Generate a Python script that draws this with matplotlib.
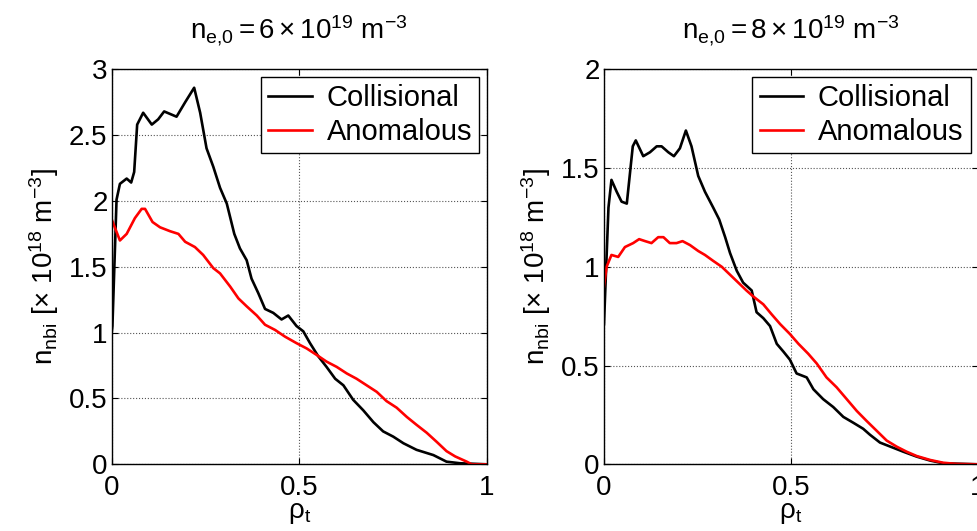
import matplotlib
matplotlib.use("Agg")
import matplotlib.pyplot as plt
from matplotlib.ticker import FormatStrFormatter, MultipleLocator

plt.rcParams['font.family'] = ['Liberation Sans', 'DejaVu Sans']
plt.rcParams['mathtext.fontset'] = 'custom'
plt.rcParams['mathtext.rm'] = 'Liberation Sans'
plt.rcParams['mathtext.it'] = 'Liberation Sans'

# n_e,0 = 6e19 panel
x_col6 = [0.0, 0.002, 0.013, 0.022, 0.04, 0.052, 0.06, 0.068, 0.084, 0.107, 0.124, 0.14, 0.173,
          0.196, 0.22, 0.236, 0.253, 0.271, 0.289, 0.307, 0.327, 0.342, 0.36, 0.373, 0.391,
          0.409, 0.431, 0.453, 0.471, 0.493, 0.511, 0.529, 0.551, 0.573, 0.596, 0.618, 0.644,
          0.671, 0.698, 0.724, 0.751, 0.778, 0.813, 0.858, 0.893, 0.929, 1.0]
y_col6 = [1.0, 1.05, 2.01, 2.13, 2.17, 2.14, 2.22, 2.58, 2.67, 2.58, 2.62, 2.68, 2.64,
          2.75, 2.86, 2.67, 2.40, 2.26, 2.10, 1.98, 1.75, 1.64, 1.55, 1.41, 1.30,
          1.18, 1.15, 1.10, 1.13, 1.05, 1.01, 0.92, 0.82, 0.74, 0.65, 0.60, 0.49,
          0.41, 0.32, 0.25, 0.21, 0.16, 0.11, 0.07, 0.02, 0.008, 0.0]
x_ano6 = [0.0, 0.022, 0.04, 0.062, 0.08, 0.089, 0.109, 0.129, 0.156, 0.178, 0.196, 0.222,
          0.244, 0.271, 0.289, 0.316, 0.338, 0.36, 0.387, 0.409, 0.436, 0.462, 0.493, 0.52,
          0.547, 0.573, 0.6, 0.627, 0.653, 0.68, 0.707, 0.733, 0.76, 0.787, 0.813, 0.84,
          0.867, 0.893, 0.916, 0.947, 0.96, 1.0]
y_ano6 = [1.86, 1.70, 1.75, 1.87, 1.94, 1.94, 1.84, 1.80, 1.77, 1.75, 1.69, 1.65,
          1.59, 1.49, 1.45, 1.35, 1.26, 1.20, 1.13, 1.06, 1.02, 0.97, 0.92, 0.88,
          0.83, 0.78, 0.74, 0.69, 0.65, 0.60, 0.55, 0.48, 0.43, 0.36, 0.30, 0.24,
          0.17, 0.10, 0.06, 0.02, 0.0, 0.0]

# n_e,0 = 8e19 panel
x_col8 = [0.0, 0.012, 0.02, 0.034, 0.047, 0.061, 0.077, 0.085, 0.105, 0.123, 0.141, 0.154,
          0.172, 0.187, 0.203, 0.219, 0.234, 0.252, 0.27, 0.292, 0.308, 0.324, 0.337, 0.355,
          0.372, 0.395, 0.408, 0.426, 0.444, 0.462, 0.48, 0.497, 0.515, 0.542, 0.56, 0.586,
          0.613, 0.64, 0.667, 0.693, 0.711, 0.738, 0.765, 0.8, 0.836, 0.872, 0.907, 1.0]
y_col8 = [0.71, 1.30, 1.44, 1.38, 1.33, 1.32, 1.61, 1.64, 1.56, 1.58, 1.61, 1.61,
          1.58, 1.56, 1.60, 1.69, 1.61, 1.46, 1.38, 1.30, 1.24, 1.15, 1.07, 0.98,
          0.92, 0.88, 0.77, 0.74, 0.70, 0.61, 0.57, 0.53, 0.46, 0.44, 0.38, 0.33,
          0.29, 0.24, 0.21, 0.18, 0.15, 0.11, 0.09, 0.064, 0.039, 0.019, 0.005, 0.0]
x_ano8 = [0.0, 0.007, 0.02, 0.038, 0.056, 0.078, 0.094, 0.11, 0.127, 0.145, 0.159, 0.176,
          0.194, 0.21, 0.23, 0.252, 0.27, 0.292, 0.315, 0.337, 0.359, 0.381, 0.399, 0.426,
          0.448, 0.471, 0.497, 0.52, 0.546, 0.569, 0.595, 0.622, 0.649, 0.676, 0.702, 0.729,
          0.756, 0.783, 0.809, 0.836, 0.872, 0.907, 0.943, 1.0]
y_ano8 = [0.90, 1.0, 1.06, 1.05, 1.10, 1.12, 1.14, 1.13, 1.12, 1.15, 1.15, 1.12,
          1.12, 1.13, 1.11, 1.08, 1.06, 1.03, 1.00, 0.96, 0.92, 0.88, 0.85, 0.81,
          0.76, 0.71, 0.66, 0.61, 0.56, 0.51, 0.44, 0.39, 0.33, 0.27, 0.22, 0.17,
          0.12, 0.089, 0.064, 0.042, 0.022, 0.008, 0.002, 0.0]

titles = [r'$\mathregular{n_{e{,}0} = 6\times10^{19}\ m^{-3}}$',
          r'$\mathregular{n_{e{,}0} = 8\times10^{19}\ m^{-3}}$']
ylims = [3, 2]
fs = 20

fig = plt.figure(figsize=(9.77, 5.31), dpi=100)
ax1 = fig.add_axes([0.1143, 0.1256, 0.3838, 0.7439])
ax2 = fig.add_axes([0.6182, 0.1256, 0.3828, 0.7439])

panels = [(ax1, x_col6, y_col6, x_ano6, y_ano6), (ax2, x_col8, y_col8, x_ano8, y_ano8)]
for i, (ax, xc, yc, xa, ya) in enumerate(panels):
    ax.plot(xc, yc, color='black', lw=1.9, label='Collisional')
    ax.plot(xa, ya, color='red', lw=1.9, label='Anomalous')
    ax.set_xlim(0, 1)
    ax.set_ylim(0, ylims[i])
    ax.xaxis.set_major_locator(MultipleLocator(0.5))
    ax.yaxis.set_major_locator(MultipleLocator(0.5))
    ax.xaxis.set_major_formatter(FormatStrFormatter('%g'))
    ax.yaxis.set_major_formatter(FormatStrFormatter('%g'))
    ax.tick_params(direction='in', length=4, width=0.8, labelsize=fs, pad=3,
                   top=True, right=True)
    ax.tick_params(axis='x', pad=8)
    ax.grid(True, linestyle=':', color='#555555', lw=0.8)
    for s in ax.spines.values():
        s.set_linewidth(1.0)
    ax.set_title(titles[i], fontsize=fs, pad=22)
    ax.set_xlabel(r'$\mathregular{\rho_t}$', fontsize=fs, labelpad=-1)
    ax.set_ylabel(r'$\mathregular{n_{nbi}\ [\times\ 10^{18}\ m^{-3}]}$', fontsize=fs, labelpad=6)
    leg = ax.legend(loc='upper right', fontsize=21, fancybox=False, edgecolor='black',
                    framealpha=1, handlelength=1.5, borderaxespad=0.25,
                    labelspacing=0.2, borderpad=0.25, handletextpad=0.5)
    leg.get_frame().set_linewidth(1.0)

fig.savefig('out.png', dpi=100)
